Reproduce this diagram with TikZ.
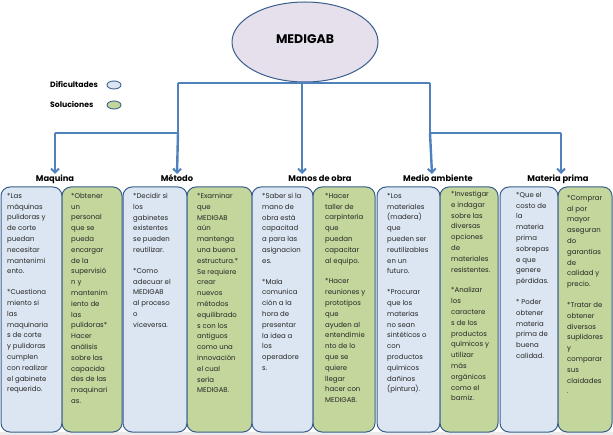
\documentclass[tikz,border=0pt]{standalone}
\usepackage{fontspec}
\setmainfont{Poppins}
\usetikzlibrary{arrows.meta,shapes.geometric}
\definecolor{linkblue}{HTML}{4F81BD}
\definecolor{edgeblue}{HTML}{3A5E8C}
\definecolor{fillblue}{HTML}{DCE6F2}
\definecolor{fillgreen}{HTML}{C3D69B}
\definecolor{fillellipse}{HTML}{E5E0EC}
\tikzset{
  link/.style={draw=linkblue,line width=2.4pt},
  arr/.style={link,-{Straight Barb[length=4pt,width=8pt,line width=2pt]}},
  panel/.style={draw=edgeblue,line width=1pt,rounded corners=9pt},
  bluepanel/.style={panel,fill=fillblue},
  greenpanel/.style={panel,fill=fillgreen},
  ptext/.style={anchor=north west,inner sep=0pt,align=left,font=\fontsize{6.95}{10.8}\selectfont,text=black!85},
  cat/.style={font=\bfseries\fontsize{8.3}{9}\selectfont,inner sep=0pt,anchor=base},
  legtext/.style={font=\bfseries\fontsize{7.7}{8}\selectfont,inner sep=0pt,anchor=base west},
}
\begin{document}
\begin{tikzpicture}[x=1pt,y=-1pt]
\useasboundingbox (0,0) rectangle (613,435);
\fill[white] (0,0) rectangle (613,435);
\fill[black!8] (0,432) rectangle (613,435);

% central ellipse
\node[draw=edgeblue,line width=1pt,fill=fillellipse,ellipse,minimum width=146pt,minimum height=80pt,inner sep=0pt,font=\bfseries\fontsize{12.5}{14}\selectfont] (medigab) at (305,42) {\raisebox{5pt}{MEDIGAB}};

% legend
\node[legtext] (ldif) at (50,88) {Dificultades};
\node[draw=edgeblue,line width=0.9pt,fill=fillblue,ellipse,minimum width=14pt,minimum height=8pt,inner sep=0pt] (ldifm) at (114,85) {};
\node[legtext] (lsol) at (50,108) {Soluciones};
\node[draw=edgeblue,line width=0.9pt,fill=fillgreen,ellipse,minimum width=14pt,minimum height=8pt,inner sep=0pt] (lsolm) at (114,105) {};

% category labels
\node[cat] (cmaq) at (55,182) {Maquina};
\node[cat] (cmet) at (177,182) {Método};
\node[cat] (cman) at (320,182) {Manos de obra};
\node[cat] (cmed) at (438,182) {Medio ambiente};
\node[cat] (cmat) at (558,182) {Materia prima};

% connector junctions and arrow ends
\coordinate (jtopL) at (178,83);
\coordinate (jtopR) at (430,83);
\coordinate (jmidL) at (178,133);
\coordinate (jmidR) at (430,133);
\coordinate (jleft) at (55,133);
\coordinate (jright) at (561,133);
\coordinate (emaq) at (55,174);
\coordinate (emet) at (177,174);
\coordinate (eman) at (302,174);
\coordinate (emed) at (432,174);
\coordinate (emat) at (561,174);

\draw[link] (jtopL) -- (jtopR);
\draw[link] (jtopL) -- (jmidL);
\draw[link] (jtopR) -- (jmidR);
\draw[link] (jleft) -- (jmidL);
\draw[link] (jmidR) -- (jright);
\draw[arr] (medigab.south -| eman) -- (eman);
\draw[arr] (jleft) -- (emaq);
\draw[arr] (jmidL) -- (emet);
\draw[arr] (jmidR) -- (emed);
\draw[arr] (jright) -- (emat);

% panels
\draw[bluepanel] (1,187) rectangle (62,432);
\draw[greenpanel] (62,187) rectangle (122,432);
\draw[bluepanel] (123,187) rectangle (187,432);
\draw[greenpanel] (187,187) rectangle (252,432);
\draw[bluepanel] (252,187) rectangle (313,432);
\draw[greenpanel] (313,187) rectangle (375,432);
\draw[bluepanel] (377,187) rectangle (440,432);
\draw[greenpanel] (440,187) rectangle (498,432);
\draw[bluepanel] (500,187) rectangle (558,432);
\draw[greenpanel] (558,187) rectangle (612,432);

% panel texts
\node[ptext] (tmaqb) at (7,193) {*Las\\máquinas\\pulidoras y\\de corte\\puedan\\necesitar\\mantenimi\\ento.\\[10pt]*Cuestiona\\miento si\\las\\maquinaria\\s de corte\\y pulidoras\\cumplen\\con realizar\\el gabinete\\requerido.};
\node[ptext] (tmaqg) at (71,193) {*Obtener\\un\\personal\\que se\\pueda\\encargar\\de la\\supervisió\\n y\\mantenim\\iento de\\las\\pulidoras*\\Hacer\\análisis\\sobre las\\capacida\\des de las\\maquinari\\as.};
\node[ptext] (tmetb) at (133,193) {*Decidir si\\los\\gabinetes\\existentes\\se pueden\\reutilizar.\\[10pt]*Como\\adecuar el\\MEDIGAB\\al proceso\\o\\viceversa.};
\node[ptext] (tmetg) at (197,193) {*Examinar\\que\\MEDIGAB\\aún\\mantenga\\una buena\\estructura.*\\Se requiere\\crear\\nuevos\\métodos\\equilibrado\\s con los\\antiguos\\como una\\innovación\\el cual\\sería\\MEDIGAB.};
\node[ptext] (tmanb) at (262,193) {*Saber si la\\mano de\\obra está\\capacitad\\a para las\\asignacion\\es.\\[10pt]*Mala\\comunica\\ción a la\\hora de\\presentar\\la idea a\\los\\operadore\\s.};
\node[ptext] (tmang) at (325,193) {*Hacer\\taller de\\carpintería\\que\\puedan\\capacitar\\al equipo.\\[10pt]*Hacer\\reuniones y\\prototipos\\que\\ayuden al\\entendimie\\nto de lo\\que se\\quiere\\llegar\\hacer con\\MEDIGAB.};
\node[ptext] (tmedb) at (387,193) {*Los\\materiales\\(madera)\\que\\pueden ser\\reutilizables\\en un\\futuro.\\[10pt]*Procurar\\que los\\materias\\no sean\\sintéticos o\\con\\productos\\químicos\\dañinos\\(pintura).};
\node[ptext] (tmedg) at (451,191) {*Investigar\\e indagar\\sobre las\\diversas\\opciones\\de\\materiales\\resistentes.\\[10pt]*Analizar\\los\\caractere\\s de los\\productos\\químicos y\\utilizar\\más\\orgánicos\\como el\\barniz.};
\node[ptext] (tmatb) at (516,192) {*Que el\\costo de\\la\\materia\\prima\\sobrepas\\e que\\genere\\pérdidas.\\[10pt]* Poder\\obtener\\materia\\prima de\\buena\\calidad.};
\node[ptext] (tmatg) at (567,195) {*Comprar\\al por\\mayor\\aseguran\\do\\garantías\\de\\calidad y\\precio.\\[10pt]*Tratar de\\obtener\\diversos\\suplidores\\y\\comparar\\sus\\claidades\\.};
\end{tikzpicture}
\end{document}
